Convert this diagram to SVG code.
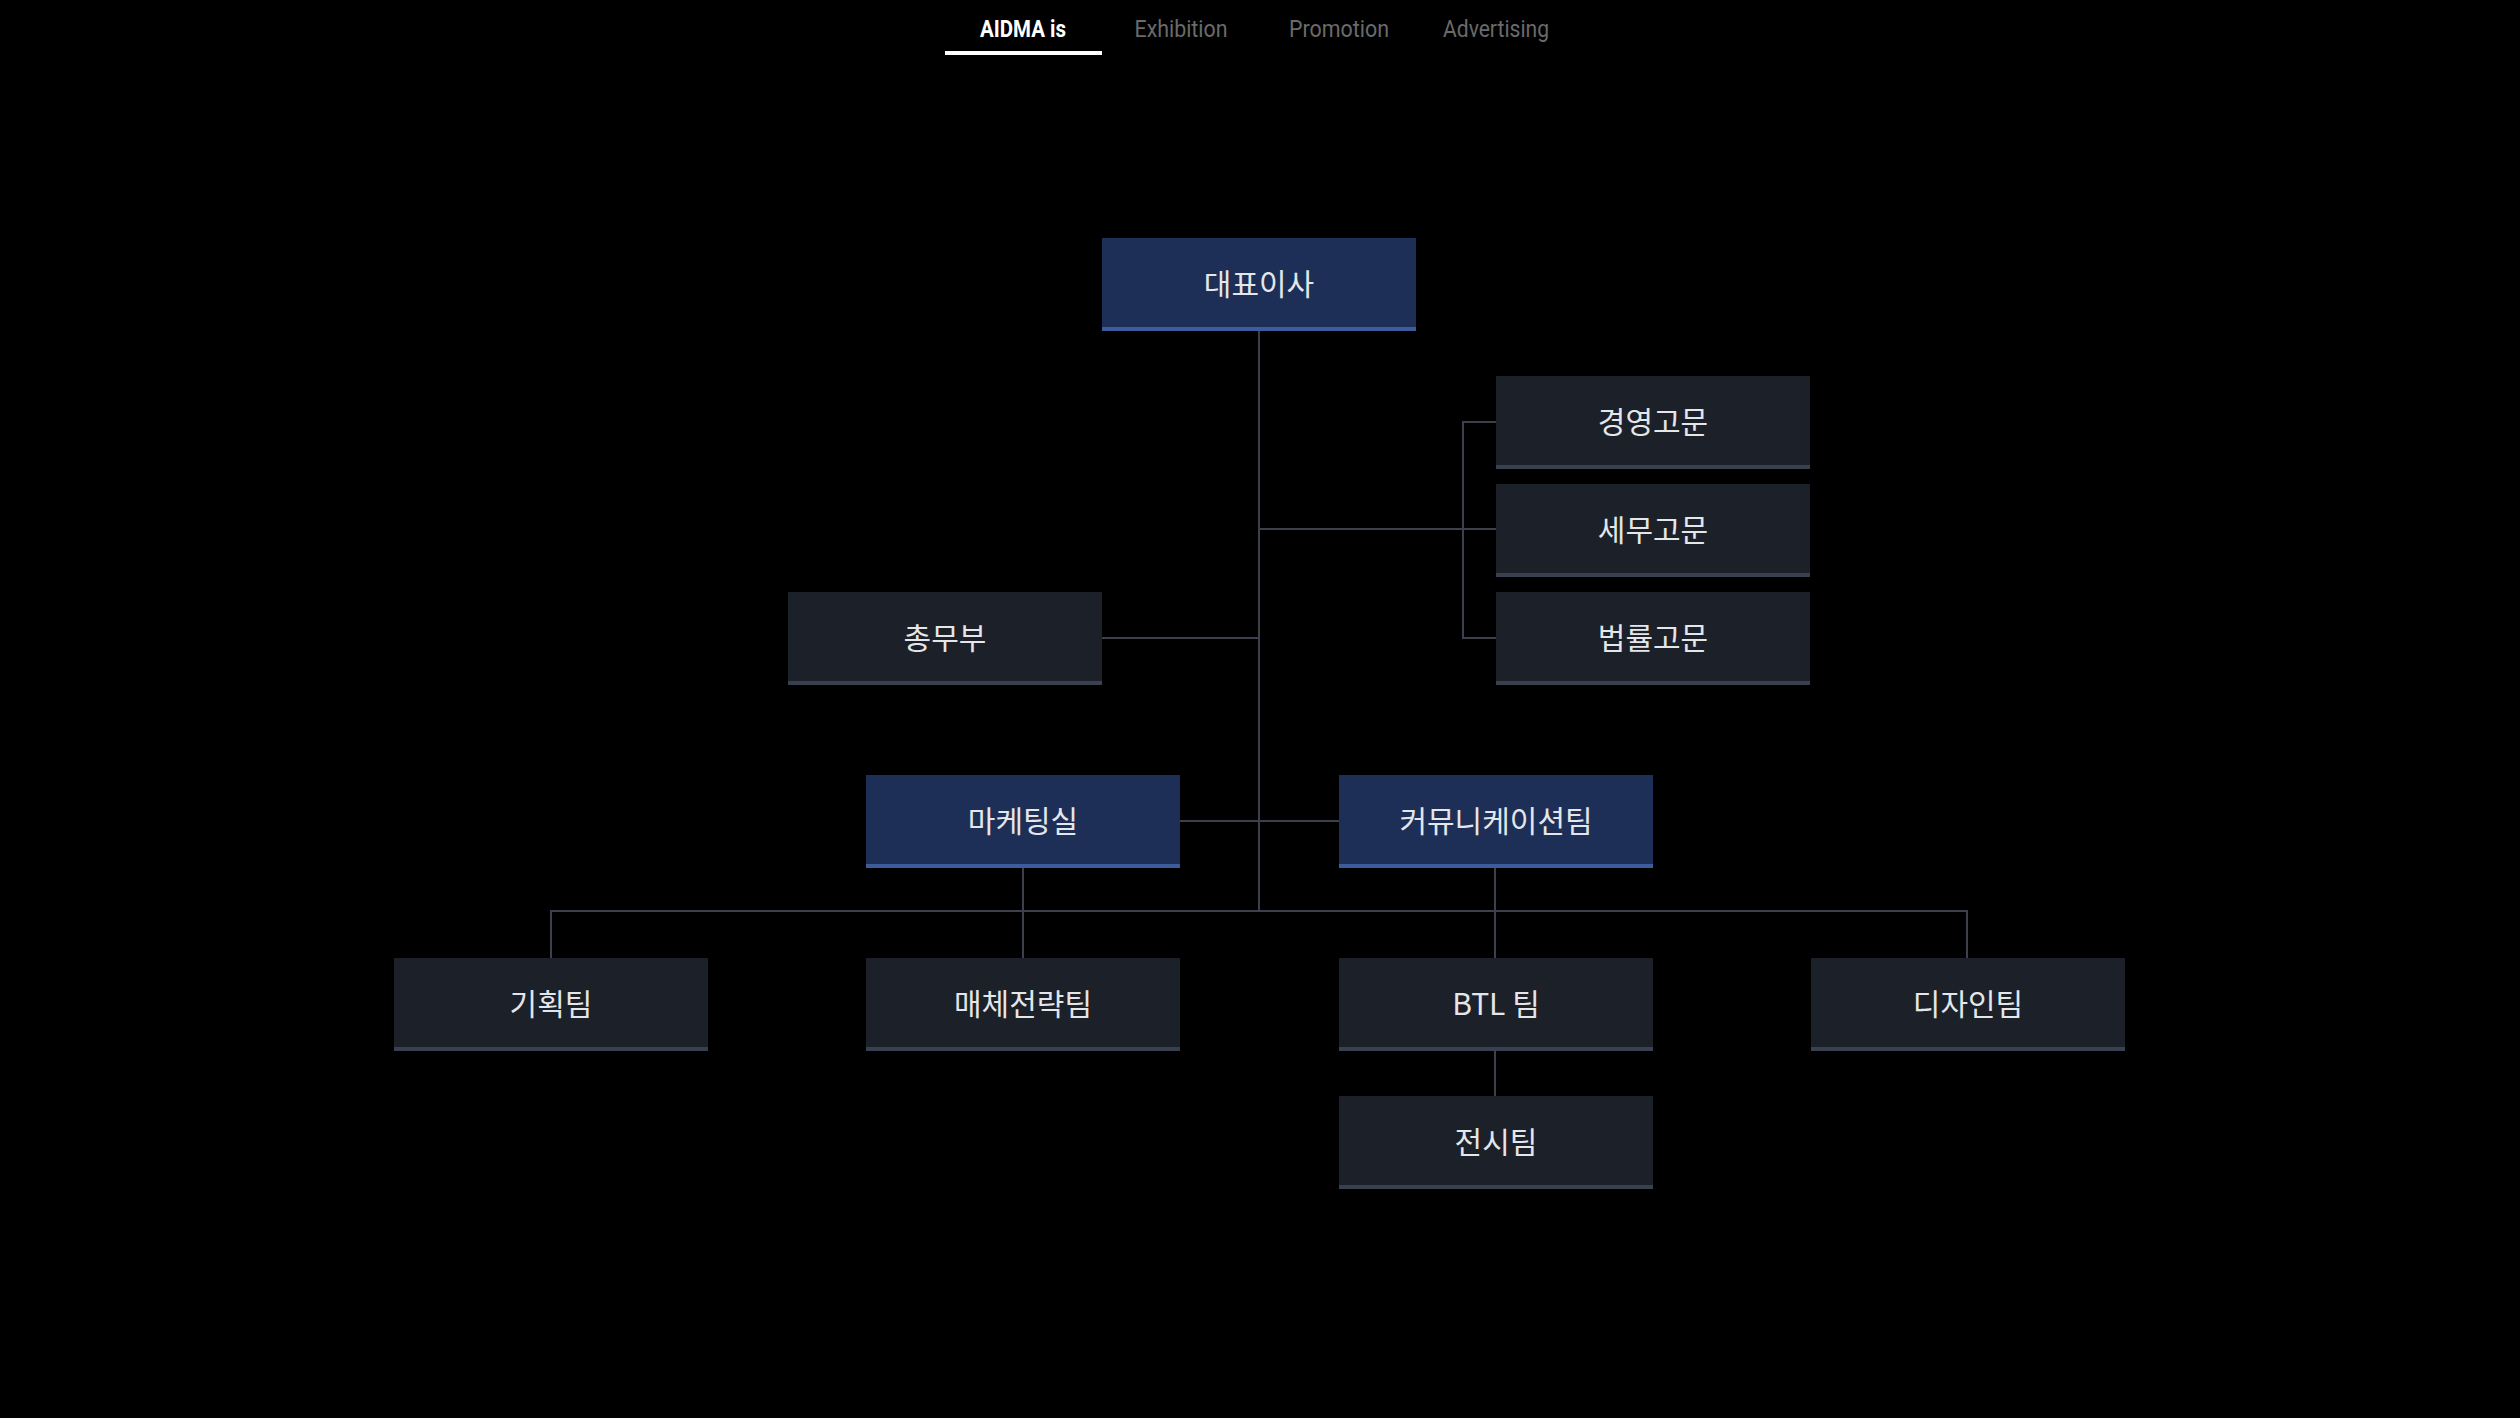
<svg xmlns="http://www.w3.org/2000/svg" width="2520" height="1418" viewBox="0 0 2520 1418">
<style>
.bg{fill:#000}
.box{fill:#1c2029}
.boxb{fill:#1d2f57}
.bar{fill:#394150}
.barb{fill:#3c5c9c}
.lbl{font-family:"Noto Sans CJK KR","Noto Sans",sans-serif;font-size:30px;fill:#e4e6ea;text-anchor:middle}
.ln{stroke:#3b404c;stroke-width:2;fill:none}
.nav{font-family:"Roboto","Liberation Sans",sans-serif;font-size:24px;fill:#6a6a6a;text-anchor:middle}
.nava{fill:#ffffff;font-weight:bold}
</style>
<rect class="bg" x="0" y="0" width="2520" height="1418"/>
<g id="nav">
<text class="nav nava" x="1023" y="37" textLength="86" lengthAdjust="spacingAndGlyphs">AIDMA is</text>
<text class="nav" x="1181" y="37" textLength="93" lengthAdjust="spacingAndGlyphs">Exhibition</text>
<text class="nav" x="1339" y="37" textLength="100" lengthAdjust="spacingAndGlyphs">Promotion</text>
<text class="nav" x="1496" y="37" textLength="106" lengthAdjust="spacingAndGlyphs">Advertising</text>
<rect x="945" y="51" width="157" height="4" fill="#ffffff"/>
</g>
<g id="connectors">
<path class="ln" d="M1259 331 V911"/>
<path class="ln" d="M551 958 V911 H1967 V958"/>
<path class="ln" d="M1023 868 V958"/>
<path class="ln" d="M1495 868 V958"/>
<path class="ln" d="M1180 821 H1339"/>
<path class="ln" d="M1495 1051 V1096"/>
<path class="ln" d="M1102 638 H1259"/>
<path class="ln" d="M1259 529 H1496"/>
<path class="ln" d="M1496 422 H1463 V638 H1496"/>
</g>
<g id="n-ceo"><rect class="boxb" x="1102" y="238" width="314" height="93"/><rect class="barb" x="1102" y="327" width="314" height="4"/><text class="lbl" x="1259" y="295">대표이사</text></g>
<g id="n-adv1"><rect class="box" x="1496" y="376" width="314" height="93"/><rect class="bar" x="1496" y="465" width="314" height="4"/><text class="lbl" x="1653" y="433">경영고문</text></g>
<g id="n-adv2"><rect class="box" x="1496" y="484" width="314" height="93"/><rect class="bar" x="1496" y="573" width="314" height="4"/><text class="lbl" x="1653" y="541">세무고문</text></g>
<g id="n-adv3"><rect class="box" x="1496" y="592" width="314" height="93"/><rect class="bar" x="1496" y="681" width="314" height="4"/><text class="lbl" x="1653" y="649">법률고문</text></g>
<g id="n-ga"><rect class="box" x="788" y="592" width="314" height="93"/><rect class="bar" x="788" y="681" width="314" height="4"/><text class="lbl" x="945" y="649">총무부</text></g>
<g id="n-mkt"><rect class="boxb" x="866" y="775" width="314" height="93"/><rect class="barb" x="866" y="864" width="314" height="4"/><text class="lbl" x="1023" y="832">마케팅실</text></g>
<g id="n-comm"><rect class="boxb" x="1339" y="775" width="314" height="93"/><rect class="barb" x="1339" y="864" width="314" height="4"/><text class="lbl" x="1496" y="832">커뮤니케이션팀</text></g>
<g id="n-plan"><rect class="box" x="394" y="958" width="314" height="93"/><rect class="bar" x="394" y="1047" width="314" height="4"/><text class="lbl" x="551" y="1015">기획팀</text></g>
<g id="n-media"><rect class="box" x="866" y="958" width="314" height="93"/><rect class="bar" x="866" y="1047" width="314" height="4"/><text class="lbl" x="1023" y="1015">매체전략팀</text></g>
<g id="n-btl"><rect class="box" x="1339" y="958" width="314" height="93"/><rect class="bar" x="1339" y="1047" width="314" height="4"/><text class="lbl" x="1496" y="1015">BTL 팀</text></g>
<g id="n-design"><rect class="box" x="1811" y="958" width="314" height="93"/><rect class="bar" x="1811" y="1047" width="314" height="4"/><text class="lbl" x="1968" y="1015">디자인팀</text></g>
<g id="n-exhib"><rect class="box" x="1339" y="1096" width="314" height="93"/><rect class="bar" x="1339" y="1185" width="314" height="4"/><text class="lbl" x="1496" y="1153">전시팀</text></g>
</svg>
